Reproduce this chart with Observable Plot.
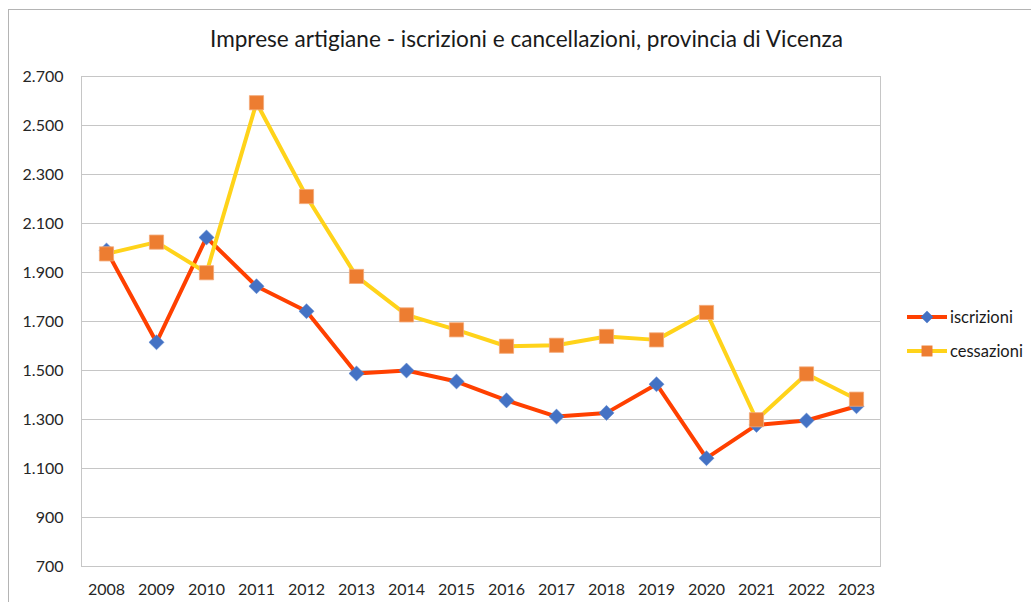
<!DOCTYPE html>
<html><head><meta charset="utf-8">
<script src="https://cdn.jsdelivr.net/npm/d3@7"></script>
<script src="https://cdn.jsdelivr.net/npm/@observablehq/plot@0.6"></script>
<style>
body{margin:0;background:#fff;font-family:Lato,"Open Sans",sans-serif;}
#wrap{position:relative;width:1031px;height:602px;overflow:hidden;background:#fff;}
#frame{position:absolute;left:8px;top:9px;width:1100px;height:700px;border-left:1px solid #b4b4b4;border-top:1px solid #b4b4b4;}
#title{position:absolute;left:0;width:1053px;top:25px;text-align:center;font-size:22.6px;color:#1a1a1a;white-space:nowrap;}
#chart{position:absolute;left:0;top:0;}
#legend{position:absolute;left:905px;top:300px;font-size:16.5px;color:#1a1a1a;}
.item{display:flex;align-items:center;height:34px;}
.item svg{display:block;margin-right:1px;}
</style>
</head><body>
<div id="wrap"><div id="frame"></div><div id="chart"></div><div id="title"></div><div id="legend"></div></div>
<script>
const titleText = "Imprese artigiane - iscrizioni e cancellazioni, provincia di Vicenza";
const years = ["2008","2009","2010","2011","2012","2013","2014","2015","2016","2017","2018","2019","2020","2021","2022","2023"];
const iscrizioni = [1990,1615,2043,1844,1742,1488,1500,1455,1378,1312,1327,1444,1142,1278,1296,1354];
const cessazioni = [1976,2024,1899,2593,2210,1884,1727,1666,1599,1603,1639,1625,1737,1299,1486,1383];
const seriesNames = ["iscrizioni","cessazioni"];
const lineColors = ["#ff4000","#ffd31a"];
const markerColors = ["#4472c4","#ed7d31"];
const markerSymbols = ["diamond2","square"];
const yTicks = [700,900,1100,1300,1500,1700,1900,2100,2300,2500,2700];

const fmt = d => d3.format(",")(d).replace(/,/g, ".");
const rows = (vals) => years.map((y, i) => ({year: y, value: vals[i]}));
const isc = rows(iscrizioni);
const ces = rows(cessazioni);

document.getElementById("title").textContent = titleText;

const chart = Plot.plot({
  width: 1031, height: 602,
  marginLeft: 81, marginRight: 151, marginTop: 76, marginBottom: 36,
  style: {fontFamily: "Lato, 'Open Sans', sans-serif", fontSize: "16px", color: "#262626", background: "transparent"},
  x: {type: "point", domain: years, range: [106, 856], padding: 0, label: null, tickSize: 0, tickPadding: 17},
  y: {domain: [700, 2700], ticks: yTicks, tickFormat: fmt, label: null, tickSize: 0, tickPadding: 18},
  marks: [
    Plot.ruleY(yTicks, {stroke: "#c6c6c6", strokeWidth: 1}),
    Plot.frame({stroke: "#c6c6c6"}),
    Plot.line(isc, {x: "year", y: "value", stroke: lineColors[0], strokeWidth: 4, curve: "linear"}),
    Plot.dot(isc, {x: "year", y: "value", symbol: markerSymbols[0], r: 6.8, fill: markerColors[0], stroke: "#5a86d0", strokeWidth: 0.5}),
    Plot.line(ces, {x: "year", y: "value", stroke: lineColors[1], strokeWidth: 4, curve: "linear"}),
    Plot.dot(ces, {x: "year", y: "value", symbol: markerSymbols[1], r: 8, fill: markerColors[1], stroke: "#f4a978", strokeWidth: 0.8})
  ]
});
document.getElementById("chart").appendChild(chart);

// legend
const legend = d3.select("#legend");
seriesNames.forEach((name, i) => {
  const item = legend.append("div").attr("class", "item");
  const svg = item.append("svg").attr("width", 44).attr("height", 16);
  svg.append("line").attr("x1", 2).attr("x2", 42).attr("y1", 8).attr("y2", 8)
    .attr("stroke", lineColors[i]).attr("stroke-width", 4);
  const sym = markerSymbols[i] === "square" ? d3.symbolSquare : d3.symbolDiamond2;
  const size = i === 0 ? 100 : 120;
  svg.append("path").attr("transform", "translate(22,8)")
    .attr("d", d3.symbol(sym, size)()).attr("fill", markerColors[i]);
  item.append("span").text(name);
});
</script>
</body></html>
